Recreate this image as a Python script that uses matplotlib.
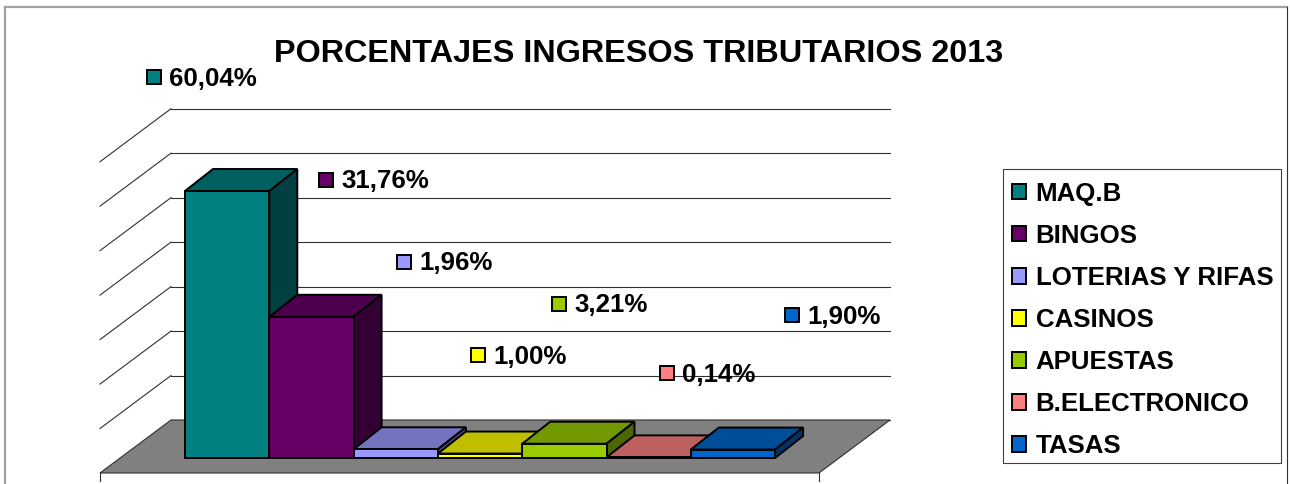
import numpy as np
import matplotlib
matplotlib.use("Agg")
import matplotlib.pyplot as plt
from matplotlib.patches import Patch, Polygon, Rectangle
from matplotlib.transforms import Affine2D

plt.rcParams['font.family'] = ['Liberation Sans', 'DejaVu Sans']
plt.rcParams['font.weight'] = 'bold'

categories = ['MAQ.B', 'BINGOS', 'LOTERIAS Y RIFAS', 'CASINOS', 'APUESTAS', 'B.ELECTRONICO', 'TASAS']
values = [60.04, 31.76, 1.96, 1.00, 3.21, 0.14, 1.90]
value_labels = ['60,04%', '31,76%', '1,96%', '1,00%', '3,21%', '0,14%', '1,90%']
grid_values = [0, 10, 20, 30, 40, 50, 60, 70]

front_colors = ['#008080', '#660066', '#9999FF', '#FFFF00', '#99CC00', '#FF8080', '#0066CC']
top_colors = ['#006060', '#4D004D', '#7373BF', '#BFBF00', '#739900', '#BF6060', '#004D99']
side_colors = ['#004040', '#330033', '#4D4D80', '#808000', '#4D6600', '#804040', '#003366']

# where each value label sits, in pixels (marker left edge, centre y)
label_x = [147, 319, 397, 471, 552, 660, 785]
label_y = [77, 180, 262, 355, 304, 373, 315]

W, H = 1290, 484
PX_PER_PCT = 4.447
BAR_PX = 84.3
X0, BASE = 185, 458
DX, DY = 28 / BAR_PX, 22 / PX_PER_PCT

fig = plt.figure(figsize=(W / 100, H / 100), dpi=100, facecolor='white')
ax = fig.add_axes([0, 0, 1, 1])
ax.set_xlim(-X0 / BAR_PX, (W - X0) / BAR_PX)
ax.set_ylim((BASE - H) / PX_PER_PCT, BASE / PX_PER_PCT)
ax.axis('off')

# pixel coordinates, y going down
px = Affine2D().scale(1, -1).translate(0, H)

# outer frame
ax.plot([5, 5], [484, 7], color='#A0A0A0', lw=1.6, transform=px, clip_on=False)
ax.plot([5, 1287], [7, 7], color='#A0A0A0', lw=1.6, transform=px, clip_on=False)
ax.plot([1287, 1287], [7, 484], color='#303030', lw=0.8, transform=px, clip_on=False)

# back wall grid and side wall diagonals
FLOOR_BACK = 420
for v in grid_values:
    yy = FLOOR_BACK - v * PX_PER_PCT
    ax.plot([171, 890], [yy, yy], color='#303030', lw=0.8, transform=px, zorder=1)
    if v > 0:
        ax.plot([100, 171], [yy + 53, yy], color='#303030', lw=0.8, transform=px, zorder=1)

# floor
ax.add_patch(Polygon([(100, 473), (171, 420), (890, 420), (819, 473)], closed=True,
                     facecolor='#808080', edgecolor='#303030', lw=0.8, transform=px, zorder=2))
ax.plot([100, 100], [473, 481], color='#303030', lw=0.8, transform=px, zorder=2)
ax.plot([819, 819], [473, 481], color='#303030', lw=0.8, transform=px, zorder=2)

# bars, left to right so each one covers the side of the previous one
for i, v in enumerate(values):
    z = 3 + i
    ax.add_patch(Polygon([(i, v), (i + DX, v + DY), (i + 1 + DX, v + DY), (i + 1, v)], closed=True,
                         facecolor=top_colors[i], edgecolor='black', lw=1.4, zorder=z))
    ax.add_patch(Polygon([(i + 1, 0), (i + 1 + DX, DY), (i + 1 + DX, v + DY), (i + 1, v)], closed=True,
                         facecolor=side_colors[i], edgecolor='black', lw=1.4, zorder=z))
    ax.bar(i + 0.5, v, width=1, color=front_colors[i], edgecolor='black', lw=1.4, zorder=z)

# value labels
for i, lab in enumerate(value_labels):
    ax.add_patch(Rectangle((label_x[i], label_y[i] - 7), 14, 14, facecolor=front_colors[i],
                           edgecolor='black', lw=1.4, transform=px, zorder=20))
    ax.text(label_x[i] + 22, label_y[i] - 1, lab, fontsize=18.6, va='center_baseline', ha='left',
            color='black', transform=px, zorder=20)

ax.text(638.5, 50, 'PORCENTAJES INGRESOS TRIBUTARIOS 2013', fontsize=23.3, ha='center', va='center_baseline',
        color='black', transform=px, zorder=20)

# legend box drawn apart so the rows can sit lower inside it
ax.add_patch(Rectangle((1003, 169), 278, 294, facecolor='white', edgecolor='#404040', lw=0.8,
                       transform=px, zorder=19))
handles = [Patch(facecolor=c, edgecolor='black', lw=1.4) for c in front_colors]
leg = ax.legend(handles, categories, loc='upper left', bbox_to_anchor=(1003, 172.5), bbox_transform=px,
                fontsize=18.6, frameon=False, borderaxespad=0, borderpad=0.36, labelspacing=0.70,
                handlelength=0.54, handleheight=0.54, handletextpad=0.36)
leg.set_zorder(20)

fig.savefig('out.png', dpi=100)
